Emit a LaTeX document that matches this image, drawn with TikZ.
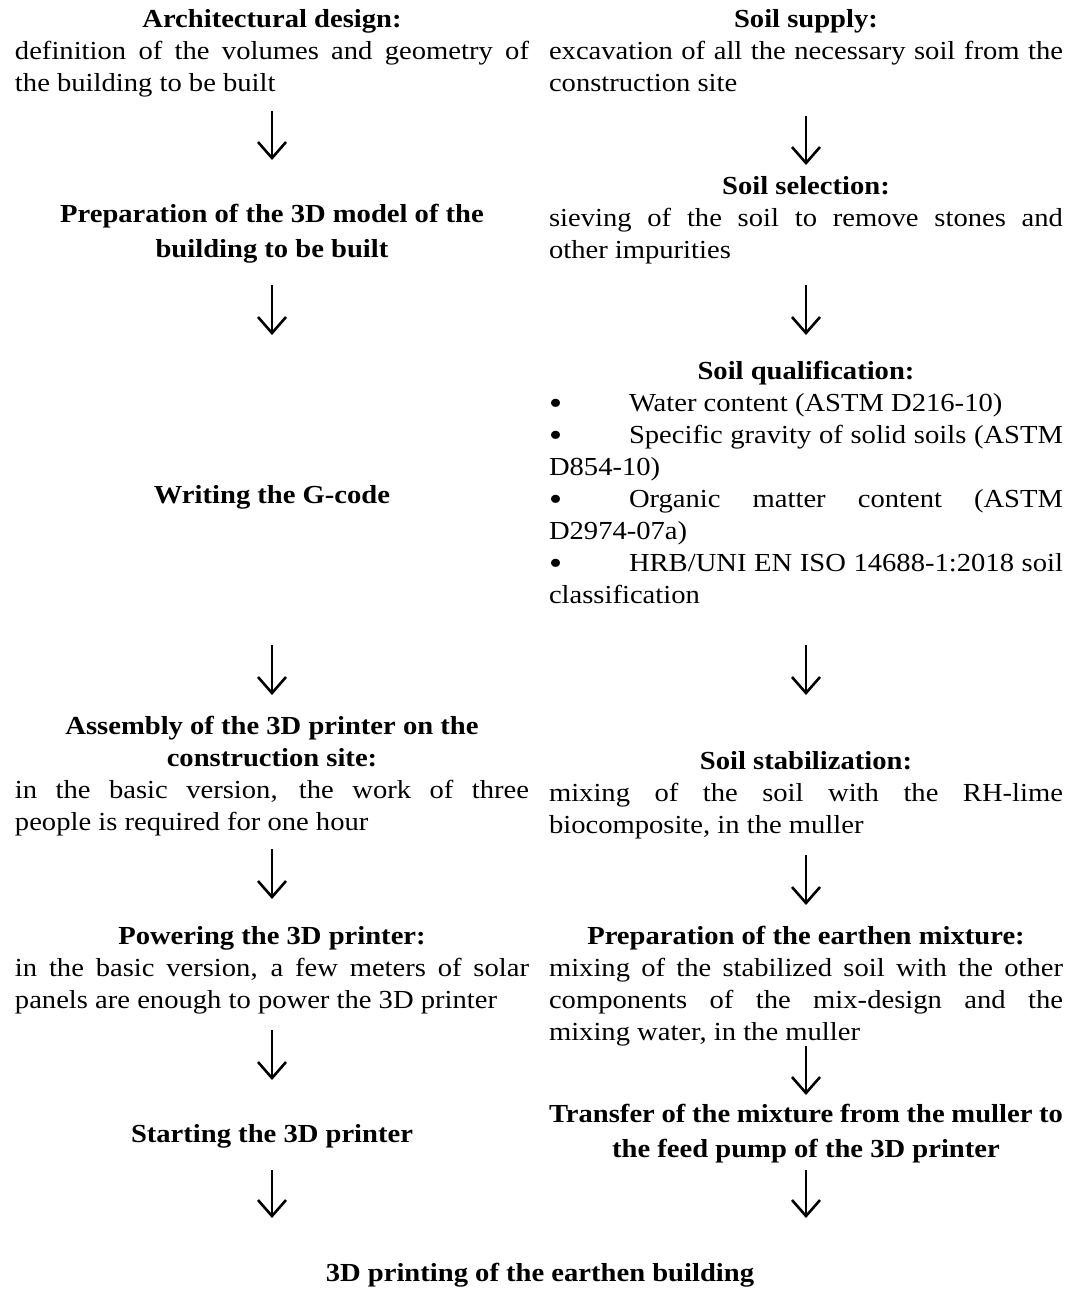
\documentclass[tikz,border=0pt]{standalone}
\usepackage{fontspec}
\usepackage{graphicx}
\setmainfont{Liberation Serif}[FakeStretch=1.1]
\usetikzlibrary{arrows.meta}
\setlength{\parindent}{0pt}
\setlength{\parskip}{0pt}
\hbadness=10000
\newcommand{\mybul}{\makebox[80pt][l]{\raisebox{-3pt}{\scalebox{1.3}{\textbullet}}}}
\tikzset{
  col/.style={text width=514pt, align=justify, inner sep=0pt, outer sep=0pt, anchor=north,
              font=\fontsize{26}{32}\selectfont},
  arr/.style={line width=2pt, -{Straight Barb[length=16pt,width=28pt,line width=2.6pt]}},
}
\begin{document}
\begin{tikzpicture}[x=1pt,y=-1pt]
\useasboundingbox[fill=white] (0,0) rectangle (1081,1293);
% left column
\node[col] (A) at (272,4.6) {{\centering\bfseries\strut Architectural design:\par}definition of the volumes and geometry of\linebreak the building to be built\strut};
\node[col] (P) at (272,199.6) {{\centering\bfseries\baselineskip=35pt\strut Preparation of the 3D model of the\\building to be built\strut\par}};
\node[col] (W) at (272,480.6) {{\centering\bfseries\strut Writing the G-code\strut\par}};
\node[col] (As) at (272,711.6) {{\centering\bfseries\strut Assembly of the 3D printer on the\\construction site:\par}in the basic version, the work of three\linebreak people is required for one hour\strut};
\node[col] (Pw) at (272,921.6) {{\centering\bfseries\strut Powering the 3D printer:\par}in the basic version, a few meters of solar\linebreak panels are enough to power the 3D printer\strut};
\node[col] (St) at (272,1119.6) {{\centering\bfseries\strut Starting the 3D printer\strut\par}};
% right column
\node[col] (SS) at (806,4.6) {{\centering\bfseries\strut Soil supply:\par}excavation of all the necessary soil from the\linebreak construction site\strut};
\node[col] (SSel) at (806,171.6) {{\centering\bfseries\strut Soil selection:\par}sieving of the soil to remove stones and\linebreak other impurities\strut};
\node[col] (SQ) at (806,356.6) {{\centering\bfseries\strut Soil qualification:\par}\mybul Water content (ASTM D216-10)\par
\mybul Specific gravity of solid soils (ASTM\linebreak D854-10)\par
\mybul Organic matter content (ASTM\linebreak D2974-07a)\par
\mybul HRB/UNI EN ISO 14688-1:2018 soil\linebreak classification\strut};
\node[col] (SStab) at (806,746.6) {{\centering\bfseries\strut Soil stabilization:\par}mixing of the soil with the RH-lime\linebreak biocomposite, in the muller\strut};
\node[col] (PE) at (806,921.6) {{\centering\bfseries\strut Preparation of the earthen mixture:\par}mixing of the stabilized soil with the other\linebreak components of the mix-design and the\linebreak mixing water, in the muller\strut};
\node[col] (T) at (806,1099.6) {{\centering\bfseries\baselineskip=35pt\strut Transfer of the mixture from the muller to\\the feed pump of the 3D printer\strut\par}};
% final
\node[inner sep=0pt, outer sep=0pt, anchor=north, font=\fontsize{26}{32}\selectfont\bfseries] (F) at (540,1258.6) {\strut 3D printing of the earthen building};
% arrows left
\draw[arr, shorten <=10.4pt, shorten >=39.6pt] (A.south) -- (P.north);
\draw[arr, shorten <=18.4pt, shorten >=145.6pt] (P.south) -- (W.north);
\draw[arr, shorten <=132.4pt, shorten >=16.6pt] (W.south) -- (As.north);
\draw[arr, shorten <=9.4pt, shorten >=22.6pt] (As.south) -- (Pw.north);
\draw[arr, shorten <=12.4pt, shorten >=39.6pt] (Pw.south) -- (St.north);
\draw[arr, shorten <=18.4pt, shorten >=40.6pt] (St.south) -- (St.south |- F.north);
% arrows right
\draw[arr, shorten <=15.4pt, shorten >=6.6pt] (SS.south) -- (SSel.north);
\draw[arr, shorten <=17.4pt, shorten >=21.6pt] (SSel.south) -- (SQ.north);
\draw[arr, shorten <=32.4pt, shorten >=51.6pt] (SQ.south) -- (SStab.north);
\draw[arr, shorten <=12.4pt, shorten >=16.6pt] (SStab.south) -- (PE.north);
\draw[arr, shorten <=-3.6pt, shorten >=4.6pt] (PE.south) -- (T.north);
\draw[arr, shorten <=3.4pt, shorten >=40.6pt] (T.south) -- (T.south |- F.north);
\end{tikzpicture}
\end{document}
